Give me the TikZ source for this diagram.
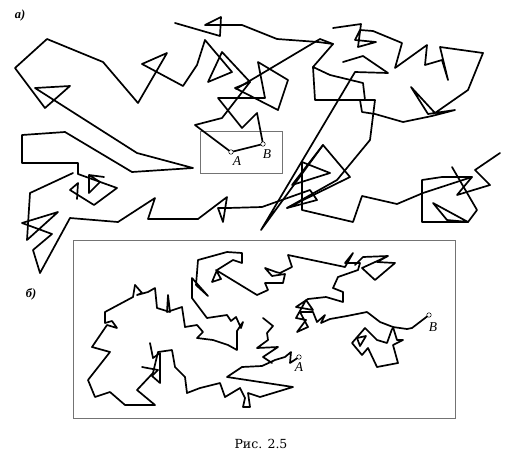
\documentclass[tikz,border=0pt]{standalone}
\usepackage{fontspec}
\setmainfont{Liberation Serif}
\newfontfamily\capfont{DejaVu Serif}
\usetikzlibrary{positioning}

\begin{document}
\begin{tikzpicture}[x=1pt,y=-1pt,
    walk/.style={line width=1.7pt,line join=round,line cap=round},
    frame/.style={draw=black!55,line width=0.6pt},
    endpt/.style={circle,draw,fill=white,line width=0.5pt,inner sep=0pt,minimum size=4.5pt},
    lbl/.style={font=\itshape\fontsize{13.5}{14}\selectfont,inner sep=0pt},
    tag/.style={font=\bfseries\itshape\fontsize{12.5}{13}\selectfont,inner sep=0pt}]
  \useasboundingbox (0,0) rectangle (519,461);
  % a) points and frame
  \coordinate (ptA) at (231,152);
  \coordinate (ptB) at (263,144);
  \draw[frame] (200,131) rectangle (282,173);
  % a) walk
  \draw[walk] (77,199) -- (78,183) -- (70,190) -- (94,205) -- (117,188) -- (78,174) -- (78,163) -- (22,163) -- (22,135) -- (65,132) -- (132,172) -- (193,168) -- (137,153) -- (35,88) -- (70,86) -- (45,108) -- (15,68) -- (47,39) -- (103,62) -- (138,103) -- (167,53) -- (142,64) -- (183,86) -- (197,65) -- (205,40) -- (232,72) -- (208,82) -- (222,52) -- (250,82) -- (235,88) -- (278,110) -- (288,80) -- (258,62) -- (265,98) -- (218,98) -- (242,128) -- (257,113) -- (ptB);
  \draw[walk] (104,177) -- (89,175) -- (100,182) -- (89,193) -- (89,175);
  \draw[walk] (73,173) -- (30,193) -- (27,240) -- (58,212) -- (22,223) -- (52,234) -- (33,250) -- (40,273) -- (70,218) -- (118,222) -- (155,198) -- (148,219) -- (198,219) -- (227,197) -- (223,222) -- (218,208) -- (228,208) -- (262,207) -- (310,190) -- (317,200) -- (287,208) -- (350,177) -- (323,145) -- (292,185) -- (330,173) -- (302,162) -- (302,210) -- (353,222) -- (362,196) -- (397,204) -- (423,193) -- (472,177) -- (457,195) -- (490,185) -- (475,170) -- (500,153);
  \draw[walk] (452,167) -- (477,210) -- (468,222) -- (422,222) -- (422,180) -- (442,177) -- (472,177);
  \draw[walk] (433,203) -- (447,220) -- (468,222) -- cycle;
  \draw[walk] (323,145) -- (261,230) -- (355,72) -- (388,73) -- (363,56) -- (343,62);
  \draw[walk] (236,89) -- (320,39) -- (333,44) -- (313,67) -- (330,75) -- (363,83) -- (365,100);
  \draw[walk] (313,67) -- (315,100) -- (375,100) -- (370,140) -- (337,180) -- (287,208);
  \draw[walk] (175,23) -- (220,36) -- (221,17) -- (205,25) -- (242,25) -- (277,39) -- (318,42) -- (333,44);
  \draw[walk] (333,28) -- (361,24) -- (358,47) -- (376,42) -- (355,40) -- (360,30) -- (373,31) -- (402,43) -- (395,68) -- (427,45) -- (425,65) -- (442,60) -- (448,80) -- (440,47) -- (483,53) -- (468,90) -- (435,113) -- (411,87) -- (428,114) -- (455,110) -- (432,116) -- (403,122) -- (375,114) -- (362,112) -- (360,100);
  \draw[walk] (ptA) -- (195,125) -- (222,118) -- (250,82);
  \draw[walk] (ptA) -- (ptB);
  \node[endpt] (dotA) at (ptA) {};
  \node[endpt] (dotB) at (ptB) {};
  \node[lbl,below right=3pt and 0pt of dotA] (labA) {A};
  \node[lbl,below right=4pt and -2pt of dotB] (labB) {B};
  \node[tag] (tagA) at (20,15) {а)};
  % b) frame and points
  \draw[frame] (73,240) rectangle (455,418);
  \coordinate (ptA2) at (299,357);
  \coordinate (ptB2) at (429,315);
  % b) walk
  \draw[walk] (135,285) -- (142,293) -- (137,295) -- (148,292) -- (155,288) -- (157,308) -- (170,312) -- (168,295) -- (167,312) -- (182,307) -- (185,327) -- (197,325) -- (203,332) -- (197,338) -- (213,340) -- (228,345) -- (237,350) -- (237,331) -- (243,322) -- (241,328) -- (236,317) -- (231,321) -- (227,315) -- (207,318) -- (192,298) -- (192,278) -- (208,296) -- (196,285) -- (198,260) -- (227,252) -- (242,253) -- (242,263) -- (233,260) -- (217,270) -- (212,282) -- (221,279) -- (216,270) -- (257,295) -- (268,290) -- (265,283) -- (283,283) -- (285,274) -- (272,276) -- (265,268) -- (276,272) -- (280,273) -- (292,267) -- (288,255) -- (345,267) -- (353,253) -- (345,263) -- (360,263) -- (358,270) -- (338,277) -- (333,288) -- (343,292) -- (343,302) -- (326,297) -- (308,299) -- (296,307) -- (313,310) -- (306,300) -- (296,318) -- (306,320) -- (297,332) -- (308,327) -- (300,312) -- (313,312) -- (317,322) -- (325,315) -- (321,323) -- (330,319) -- (347,316) -- (367,312) -- (380,322) -- (393,327) -- (407,329) -- (412,328) -- (ptB2);
  \draw[walk] (135,285) -- (133,297) -- (105,312) -- (105,323) -- (112,321) -- (117,328) -- (107,325) -- (92,347) -- (110,352) -- (88,380) -- (95,397) -- (110,392) -- (125,405) -- (155,405) -- (137,390) -- (153,373) -- (158,352) -- (172,350) -- (175,367) -- (185,377) -- (187,393) -- (200,388) -- (220,383) -- (225,397) -- (240,388) -- (245,398) -- (243,407) -- (250,407) -- (248,393) -- (260,397) -- (293,387) -- (227,377) -- (242,367) -- (262,366) -- (275,360) -- (285,357) -- (291,352) -- (290,363) -- (ptA2);
  \draw[walk] (263,318) -- (273,326) -- (267,333) -- (268,340) -- (257,348) -- (278,347) -- (263,357) -- (272,363);
  \draw[walk] (355,265) -- (363,257) -- (388,256) -- (377,262) -- (395,263) -- (375,280) -- (362,268) -- (386,257);
  \draw[walk] (393,327) -- (397,340) -- (403,340) -- (393,345) -- (398,363) -- (377,367) -- (368,348) -- (362,355) -- (352,343) -- (365,328) -- (377,340) -- (387,343) -- (392,329);
  \draw[walk] (357,338) -- (366,336) -- (360,346) -- cycle;
  \draw[walk] (150,343) -- (153,358) -- (160,353) -- (160,383) -- (152,376) -- (158,370) -- (142,367);
  \node[endpt] (dotA2) at (ptA2) {};
  \node[endpt] (dotB2) at (ptB2) {};
  \node[lbl,below=2.5pt of dotA2] (labA2) {A};
  \node[lbl,below right=6pt and -2pt of dotB2] (labB2) {B};
  \node[tag] (tagB) at (31,294) {б)};
  % caption
  \node[font=\capfont\fontsize{12.5}{13}\selectfont] (cap) at (261,444) {Рис. 2.5};
\end{tikzpicture}
\end{document}
